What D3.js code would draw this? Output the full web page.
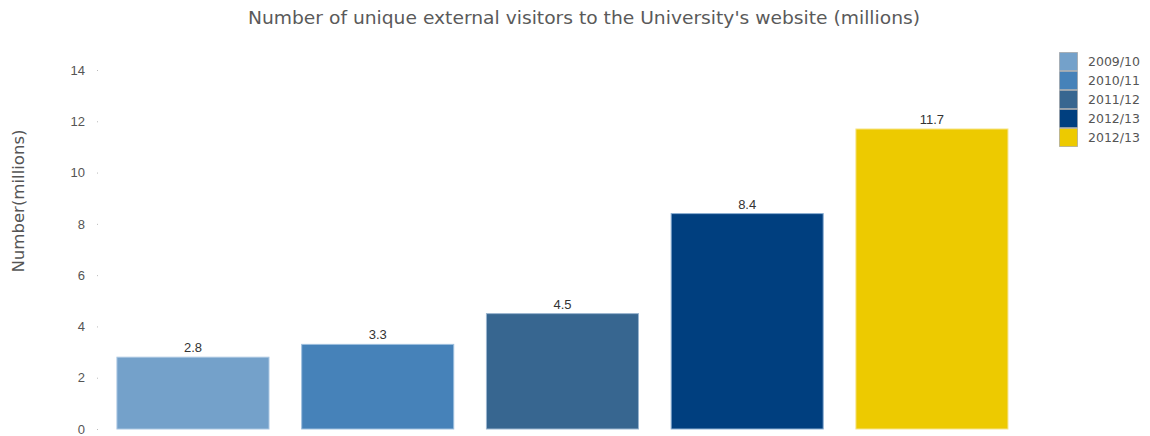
<!DOCTYPE html>
<html>
<head>
<meta charset="utf-8">
<script src="https://cdn.jsdelivr.net/npm/d3@7"></script>
<style>
  html, body { margin: 0; padding: 0; background: #fff; }
  svg { display: block; }
</style>
</head>
<body>
<svg id="chart" width="1150" height="436"></svg>
<script>
// Chart data
const categories = ["2009/10", "2010/11", "2011/12", "2012/13", "2012/13 "];
const legendLabels = ["2009/10", "2010/11", "2011/12", "2012/13", "2012/13"];
const values = [2.8, 3.3, 4.5, 8.4, 11.7];
const yTicks = [0, 2, 4, 6, 8, 10, 12, 14];
const fills = ["#74a1ca", "#4682b9", "#376690", "#003f7f", "#edca00"];
const strokes = ["#a9c6e2", "#9dbfde", "#9ab5cf", "#8aaed2", "#f6e48a"];

const svg = d3.select("#chart");
const font = "'Liberation Sans', Arial, sans-serif";
const wide = "'DejaVu Sans', Verdana, sans-serif";

const x = d3.scaleBand()
  .domain(categories)
  .range([100.6, 1024.3])
  .paddingInner(0.177)
  .paddingOuter(0.0885);

const y = d3.scaleLinear()
  .domain([0, 14])
  .range([429, 70]);

// Title
svg.append("text")
  .attr("x", 584)
  .attr("y", 24)
  .attr("text-anchor", "middle")
  .attr("font-family", wide)
  .attr("font-size", 17.5)
  .attr("textLength", 672)
  .attr("lengthAdjust", "spacingAndGlyphs")
  .attr("fill", "#5a5a5a")
  .text("Number of unique external visitors to the University's website (millions)");

// Y axis
const yAxis = d3.axisLeft(y)
  .tickValues(yTicks)
  .tickSize(1)
  .tickPadding(12)
  .tickFormat(d3.format("d"));

const gy = svg.append("g")
  .attr("transform", "translate(98,0)")
  .call(yAxis);
gy.select(".domain").remove();
gy.selectAll(".tick line").attr("stroke", "#bbb");
gy.selectAll(".tick text")
  .attr("font-family", font)
  .attr("font-size", 13)
  .attr("fill", "#555");

// Y axis title
svg.append("text")
  .attr("transform", "translate(24,201) rotate(-90)")
  .attr("text-anchor", "middle")
  .attr("font-family", wide)
  .attr("font-size", 16.5)
  .attr("textLength", 143)
  .attr("lengthAdjust", "spacingAndGlyphs")
  .attr("fill", "#555")
  .text("Number(millions)");

// Bars
svg.append("g").selectAll("rect")
  .data(values)
  .join("rect")
  .attr("x", (d, i) => x(categories[i]))
  .attr("y", d => y(d))
  .attr("width", x.bandwidth())
  .attr("height", d => y(0) - y(d))
  .attr("fill", (d, i) => fills[i])
  .attr("stroke", (d, i) => strokes[i])
  .attr("stroke-width", 1);

// Value labels
svg.append("g").selectAll("text")
  .data(values)
  .join("text")
  .attr("x", (d, i) => x(categories[i]) + x.bandwidth() / 2)
  .attr("y", d => y(d) - 5)
  .attr("text-anchor", "middle")
  .attr("font-family", font)
  .attr("font-size", 13)
  .attr("fill", "#333")
  .text(d => d.toFixed(1));

// Legend
const legend = svg.append("g").attr("transform", "translate(1059,52)");
const items = legend.selectAll("g")
  .data(legendLabels)
  .join("g")
  .attr("transform", (d, i) => `translate(0,${i * 19})`);
items.append("rect")
  .attr("x", 0.5)
  .attr("y", 0.5)
  .attr("width", 18)
  .attr("height", 18)
  .attr("fill", (d, i) => fills[i])
  .attr("stroke", "#999")
  .attr("stroke-opacity", 0.6);
items.append("text")
  .attr("x", 29)
  .attr("y", 14)
  .attr("font-family", wide)
  .attr("font-size", 12.5)
  .attr("fill", "#555")
  .text(d => d);
</script>
</body>
</html>
